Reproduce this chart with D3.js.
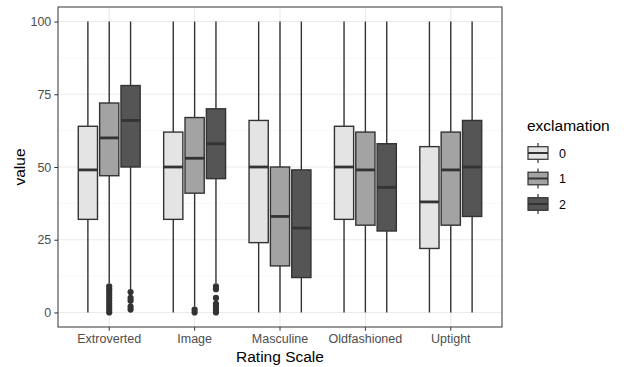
<!DOCTYPE html>
<html>
<head>
<meta charset="utf-8">
<script src="https://cdn.jsdelivr.net/npm/d3@7"></script>
<style>
  body { margin: 0; background: #fff; }
  svg { font-family: "Liberation Sans", Arial, sans-serif; }
</style>
</head>
<body>
<svg id="chart" width="624" height="367"></svg>
<script>
// data
var scales = ["Extroverted", "Image", "Masculine", "Oldfashioned", "Uptight"];
var groups = ["0", "1", "2"];
var fills = ["#e4e4e4", "#a3a3a3", "#555555"];
var yTicks = [0, 25, 50, 75, 100];

// [lower whisker, q1, median, q3, upper whisker] per scale, one array per group
var stats0 = [[0, 32, 49, 64, 100], [0, 32, 50, 62, 100], [0, 24, 50, 66, 100], [0, 32, 50, 64, 100], [0, 22, 38, 57, 100]];
var stats1 = [[10, 47, 60, 72, 100], [2, 41, 53, 67, 100], [0, 16, 33, 50, 100], [0, 30, 49, 62, 100], [0, 30, 49, 62, 100]];
var stats2 = [[8, 50, 66, 78, 100], [10, 46, 58, 70, 100], [0, 12, 29, 49, 100], [0, 28, 43, 58, 100], [0, 33, 50, 66, 100]];
var outliers0 = [[], [], [], [], []];
var outliers1 = [[0, 1, 2, 3, 4, 5, 6, 7, 8, 9], [0, 1], [], [], []];
var outliers2 = [[1, 2, 4, 5, 7], [0, 1, 2, 3, 5, 8, 9], [], [], []];

var allStats = [stats0, stats1, stats2];
var allOutliers = [outliers0, outliers1, outliers2];

var svg = d3.select("#chart");
var margin = { top: 7, right: 122, bottom: 40, left: 58 };
var width = 624 - margin.left - margin.right;
var height = 367 - margin.top - margin.bottom;
var ink = "#333333";

// ggplot discrete expansion: 0.6 units each side -> bands start 0.1 step in
var step = width / 5.2;
var x = d3.scaleBand().domain(scales).range([0.1 * step, width - 0.1 * step]).padding(0);
var xg = d3.scaleBand().domain(groups).range([x.bandwidth() * 0.125, x.bandwidth() * 0.875]);
var y = d3.scaleLinear().domain([-5, 105]).range([height, 0]);

var g = svg.append("g").attr("transform", "translate(" + margin.left + "," + margin.top + ")");

// panel grid
var minor = [12.5, 37.5, 62.5, 87.5];
g.selectAll(".minor").data(minor).enter().append("line")
    .attr("x1", 0).attr("x2", width)
    .attr("y1", d => y(d)).attr("y2", d => y(d))
    .attr("stroke", "#f4f4f4").attr("stroke-width", 0.6);
g.selectAll(".major").data(yTicks).enter().append("line")
    .attr("x1", 0).attr("x2", width)
    .attr("y1", d => y(d)).attr("y2", d => y(d))
    .attr("stroke", "#ebebeb").attr("stroke-width", 1.1);
g.selectAll(".vmajor").data(scales).enter().append("line")
    .attr("x1", d => x(d) + x.bandwidth() / 2).attr("x2", d => x(d) + x.bandwidth() / 2)
    .attr("y1", 0).attr("y2", height)
    .attr("stroke", "#ebebeb").attr("stroke-width", 1.1);

// boxes
groups.forEach(function (grp, gi) {
    scales.forEach(function (sc, si) {
        var s = allStats[gi][si];
        var bw = xg.bandwidth() * 0.9;
        var cx = x(sc) + xg(grp) + xg.bandwidth() / 2;
        var box = g.append("g");
        box.append("line")
            .attr("x1", cx).attr("x2", cx).attr("y1", y(s[0])).attr("y2", y(s[1]))
            .attr("stroke", ink).attr("stroke-width", 1.4);
        box.append("line")
            .attr("x1", cx).attr("x2", cx).attr("y1", y(s[3])).attr("y2", y(s[4]))
            .attr("stroke", ink).attr("stroke-width", 1.4);
        box.append("rect")
            .attr("x", cx - bw / 2).attr("width", bw)
            .attr("y", y(s[3])).attr("height", y(s[1]) - y(s[3]))
            .attr("fill", fills[gi]).attr("stroke", ink).attr("stroke-width", 1.4);
        box.append("line")
            .attr("x1", cx - bw / 2).attr("x2", cx + bw / 2).attr("y1", y(s[2])).attr("y2", y(s[2]))
            .attr("stroke", ink).attr("stroke-width", 2.8);
        box.selectAll("circle").data(allOutliers[gi][si]).enter().append("circle")
            .attr("cx", cx).attr("cy", d => y(d)).attr("r", 3.1)
            .attr("fill", ink);
    });
});

// panel border
g.append("rect").attr("width", width).attr("height", height)
    .attr("fill", "none").attr("stroke", ink).attr("stroke-width", 1);

// axes
var xAxis = g.append("g").attr("transform", "translate(0," + height + ")")
    .call(d3.axisBottom(x).tickSize(3.7).tickPadding(3));
var yAxis = g.append("g")
    .call(d3.axisLeft(y).tickValues(yTicks).tickSize(3.7).tickPadding(3));
[xAxis, yAxis].forEach(function (a) {
    a.attr("font-size", null).attr("font-family", null);
    a.select(".domain").remove();
    a.selectAll(".tick line").attr("stroke", ink).attr("stroke-width", 1);
    a.selectAll(".tick text").attr("fill", "#4d4d4d").style("font-size", "12.5px");
});

// axis titles
svg.append("text").attr("x", margin.left + width / 2).attr("y", 362)
    .attr("text-anchor", "middle").style("font-size", "15.5px").attr("fill", "#000")
    .text("Rating Scale");
svg.append("text").attr("transform", "translate(24.5," + (margin.top + y(50)) + ") rotate(-90)")
    .attr("text-anchor", "middle").style("font-size", "15.5px").attr("fill", "#000")
    .text("value");

// legend
var legend = svg.append("g").attr("transform", "translate(527,0)");
legend.append("text").attr("x", 0).attr("y", 131)
    .style("font-size", "15.5px").attr("fill", "#000").text("exclamation");
var keyY = d3.scalePoint().domain(groups).range([153, 204]);
groups.forEach(function (grp, gi) {
    var cy = keyY(grp);
    var k = legend.append("g");
    k.append("line").attr("x1", 11).attr("x2", 11).attr("y1", cy - 10).attr("y2", cy + 10)
        .attr("stroke", ink).attr("stroke-width", 1.2);
    k.append("rect").attr("x", 1).attr("y", cy - 6.3).attr("width", 20).attr("height", 12.6)
        .attr("fill", fills[gi]).attr("stroke", ink).attr("stroke-width", 1.2);
    k.append("line").attr("x1", 1).attr("x2", 21).attr("y1", cy).attr("y2", cy)
        .attr("stroke", ink).attr("stroke-width", 2);
    k.append("text").attr("x", 32).attr("y", cy).attr("dy", "0.36em")
        .style("font-size", "12.5px").attr("fill", "#000").text(grp);
});
</script>
</body>
</html>
